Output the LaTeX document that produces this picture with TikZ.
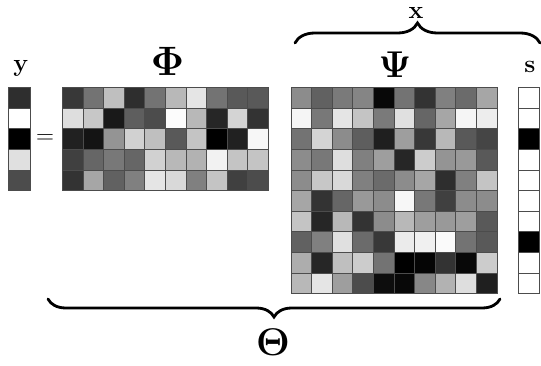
\documentclass[tikz,border=0pt]{standalone}
\usepackage{graphicx}
\usetikzlibrary{decorations.pathreplacing}
\begin{document}
\begin{tikzpicture}[x=1pt,y=-1pt,
  cellline/.style={draw=black!70,line width=0.7pt},
  bracestyle/.style={decorate,line width=2.8pt,line cap=round},
  smalllab/.style={inner sep=0pt,font=\fontsize{23}{26}\selectfont},
  biglab/.style={inner sep=0pt,font=\Huge}]
\useasboundingbox (0,0) rectangle (541,366);
\def\cs{20.6}
% Phi matrix
\foreach \row [count=\i from 0] in {
 {0.22,0.45,0.75,0.18,0.45,0.72,0.90,0.45,0.35,0.35},
 {0.87,0.78,0.10,0.37,0.30,0.99,0.72,0.15,0.83,0.20},
 {0.13,0.08,0.58,0.82,0.75,0.35,0.77,0.00,0.13,0.97},
 {0.25,0.40,0.47,0.40,0.82,0.72,0.70,0.95,0.77,0.77},
 {0.20,0.65,0.38,0.50,0.90,0.85,0.50,0.77,0.25,0.30}}{
  \foreach \v [count=\j from 0] in \row {
    \definecolor{cc}{gray}{\v}
    \fill[cc,cellline] ({62.3+\j*\cs},{87.5+\i*\cs}) rectangle ++(\cs,\cs);
  }
}
% Psi matrix
\foreach \row [count=\i from 0] in {
 {0.55,0.38,0.48,0.52,0.03,0.45,0.20,0.50,0.42,0.65},
 {0.96,0.47,0.90,0.77,0.48,0.88,0.40,0.65,0.96,0.93},
 {0.45,0.83,0.55,0.37,0.12,0.62,0.22,0.72,0.35,0.27},
 {0.55,0.47,0.87,0.50,0.62,0.15,0.80,0.58,0.60,0.35},
 {0.55,0.78,0.85,0.50,0.42,0.55,0.65,0.18,0.50,0.77},
 {0.65,0.20,0.40,0.60,0.55,0.97,0.47,0.25,0.55,0.55},
 {0.77,0.15,0.72,0.20,0.55,0.72,0.62,0.60,0.62,0.35},
 {0.38,0.50,0.88,0.42,0.22,0.92,0.94,0.98,0.45,0.35},
 {0.68,0.15,0.75,0.80,0.45,0.00,0.02,0.20,0.03,0.80},
 {0.72,0.90,0.62,0.30,0.05,0.03,0.53,0.70,0.87,0.12}}{
  \foreach \v [count=\j from 0] in \row {
    \definecolor{cc}{gray}{\v}
    \fill[cc,cellline] ({291+\j*\cs},{87.5+\i*\cs}) rectangle ++(\cs,\cs);
  }
}
% y vector
\foreach \v [count=\i from 0] in {0.18,1.0,0.0,0.88,0.30}{
  \definecolor{cc}{gray}{\v}
  \fill[cc,cellline] (8.8,{87.5+\i*\cs}) rectangle ++(21.2,\cs);
}
% s vector
\foreach \v [count=\i from 0] in {1,1,0,1,1,1,1,0,1,1}{
  \definecolor{cc}{gray}{\v}
  \fill[cc,cellline] (518.6,{87.5+\i*\cs}) rectangle ++(21.2,\cs);
}
% labels
\node[smalllab] (ylab) at (21,68) {$\mathbf{y}$};
\node[smalllab] (eq) at (45,139) {$=$};
\node[smalllab] (slab) at (530,67) {$\mathbf{s}$};
\node[smalllab] (xlab) at (416,13) {$\mathbf{x}$};
\node[biglab] (philab) at (167.5,61) {\scalebox{1.65}{$\mathbf{\Phi}$}};
\node[biglab] (psilab) at (395,65) {\scalebox{1.5}{$\mathbf{\Psi}$}};
\node[biglab] (thetalab) at (273,342) {\scalebox{1.55}{$\mathbf{\Theta}$}};
% braces
\coordinate (tl) at (295,43);
\coordinate (tr) at (540,43);
\coordinate (bl) at (48,299);
\coordinate (br) at (500,299);
\draw[bracestyle,decoration={brace,amplitude=20pt}] (tl) -- (tr);
\draw[bracestyle,decoration={brace,amplitude=18pt}] (br) -- (bl);
\end{tikzpicture}
\end{document}
